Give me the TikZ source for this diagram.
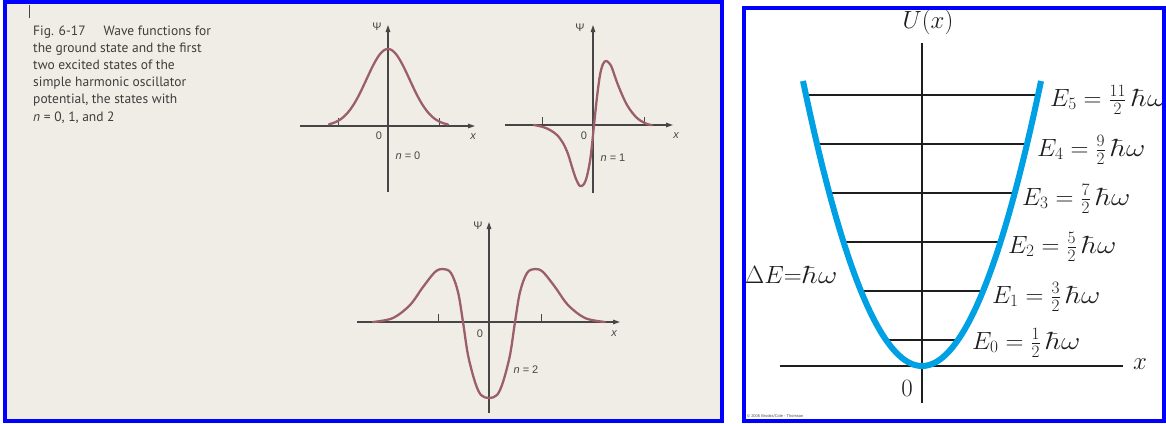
\documentclass[tikz,border=0pt]{standalone}
\usepackage{fontspec}
\usetikzlibrary{arrows.meta}
\newfontfamily\capfont{PT Sans}
\newfontfamily\lblfont{Liberation Sans}
\definecolor{paper}{RGB}{240,237,231}
\definecolor{frameblue}{RGB}{0,0,255}
\definecolor{wave}{RGB}{155,95,108}
\definecolor{axisgray}{RGB}{70,70,70}
\definecolor{captext}{RGB}{65,60,60}
\definecolor{potblue}{RGB}{0,160,228}
\definecolor{levelgray}{RGB}{30,30,30}
\newcommand{\hw}{\scalebox{1.2}[1]{$\hbar\omega$}}
\begin{document}
\begin{tikzpicture}[x=1pt,y=-1pt,
  frame/.style={draw=frameblue,line width=4pt},
  axis/.style={draw=axisgray,line width=1.2pt,-{Triangle[length=7pt,width=4.5pt]}},
  tickmark/.style={draw=axisgray,line width=1pt},
  wavecurve/.style={draw=wave,line width=2.3pt,line join=round,line cap=round},
  captxt/.style={anchor=base west,inner sep=0pt,text=captext,font=\capfont\fontsize{13.5}{16}\selectfont},
  smalllbl/.style={inner sep=0pt,text=axisgray,font=\lblfont\fontsize{11}{12}\selectfont},
  mathlbl/.style={inner sep=0pt,anchor=west,text=levelgray,font=\fontsize{26}{30}\selectfont},
  biglbl/.style={inner sep=0pt,text=levelgray,font=\fontsize{29}{33}\selectfont},
  level/.style={draw=levelgray,line width=1.4pt},
  potaxis/.style={draw=levelgray,line width=1.4pt},
  potential/.style={draw=potblue,line width=6pt},
]
\useasboundingbox (0,0) rectangle (1166,423);
\fill[white] (0,0) rectangle (1166,423);

% ---------------- left panel ----------------
\fill[paper] (4.7,2) rectangle (722,421);
\draw[axisgray,line width=1pt] (29,5) -- (29,18);

\node[captxt] (cap1) at (33,35) {Fig. 6-17\hspace{18pt}Wave functions for};
\node[captxt] (cap2) at (33,52.2) {the ground state and the first};
\node[captxt] (cap3) at (33,69.4) {two excited states of the};
\node[captxt] (cap4) at (33,86.6) {simple harmonic oscillator};
\node[captxt] (cap5) at (33,103.8) {potential, the states with};
\node[captxt] (cap6) at (33,121) {\textit{n} = 0, 1, and 2};

% n = 0
\coordinate (a0l) at (300,126); \coordinate (a0r) at (475,126);
\coordinate (a0b) at (388,192); \coordinate (a0t) at (388,25);
\draw[axis] (a0l) -- (a0r);
\draw[axis] (a0b) -- (a0t);
\draw[tickmark] (338,118) -- (338,126);
\draw[tickmark] (439,118) -- (439,126);
\begin{scope}[shift={(388,126)}]
  \draw[wavecurve] plot[domain=-59:60,samples=120] (\x,{-77*exp(-(\x*\x)/924.5)});
\end{scope}
\node[smalllbl] (psi0) at (377,27) {Ψ};
\node[smalllbl] (zero0) at (379,136) {0};
\node[smalllbl] (x0) at (473,137) {\itshape x};
\node[smalllbl] (n0) at (408,156) {\itshape n\upshape\hspace{3pt}=\hspace{3pt}0};

% n = 1
\coordinate (a1l) at (505,125); \coordinate (a1r) at (673,125);
\coordinate (a1b) at (593,193); \coordinate (a1t) at (593,25);
\draw[axis] (a1l) -- (a1r);
\draw[axis] (a1b) -- (a1t);
\draw[tickmark] (542,117) -- (542,125);
\draw[tickmark] (644,117) -- (644,125);
\begin{scope}[shift={(593,125)}]
  \draw[wavecurve] plot[smooth,tension=0.55] coordinates {
    (-59,0) (-50,2) (-43,5) (-36,10) (-30,18) (-25,29) (-21,42) (-17,54)
    (-13,61) (-9,59) (-6,51) (-3,36) (-1,20) (1,0) (4,-28) (7,-50) (10,-61)
    (13,-64) (16,-62) (19,-57) (25,-40) (34,-20) (44,-7) (54,-1) (59,0)};
\end{scope}
\node[smalllbl] (psi1) at (580,28) {Ψ};
\node[smalllbl] (zero1) at (584,136) {0};
\node[smalllbl] (x1) at (676,136) {\itshape x};
\node[smalllbl] (n1) at (613,158) {\itshape n\upshape\hspace{3pt}=\hspace{3pt}1};

% n = 2
\coordinate (a2l) at (357,322); \coordinate (a2r) at (620,322);
\coordinate (a2b) at (489,413); \coordinate (a2t) at (489,222);
\draw[axis] (a2l) -- (a2r);
\draw[axis] (a2b) -- (a2t);
\draw[tickmark] (438,314) -- (438,322);
\draw[tickmark] (541,314) -- (541,322);
\begin{scope}[shift={(489,322)}]
  \draw[wavecurve] plot[smooth,tension=0.55] coordinates {
    (-116,0) (-96,-4) (-79,-17) (-66,-35) (-54,-50) (-46,-53) (-38,-49) (-31,-30)
    (-26,0) (-21,33) (-14,60) (-8,73) (0,76) (8,73) (14,60) (21,33) (26,0)
    (31,-30) (38,-49) (46,-53) (54,-50) (66,-35) (79,-17) (96,-4) (116,0)};
\end{scope}
\node[smalllbl] (psi2) at (478,226) {Ψ};
\node[smalllbl] (zero2) at (480,334) {0};
\node[smalllbl] (x2) at (614,334) {\itshape x};
\node[smalllbl] (n2) at (526,370) {\itshape n\upshape\hspace{3pt}=\hspace{3pt}2};

\draw[frame] (4.7,2) rectangle (722,421);

% ---------------- right panel ----------------
\begin{scope}
  \clip (744,7.5) rectangle (1164,421);
  \coordinate (vb) at (922,403); \coordinate (vt) at (922,43);
  \coordinate (hl) at (780,366); \coordinate (hr) at (1123,366);
  \draw[potaxis] (vb) -- (vt);
  \draw[potaxis] (hl) -- (hr);
  \foreach \n/\yy in {0/340,1/291,2/242,3/193,4/144,5/95}{
    \pgfmathsetmacro{\halfw}{sqrt((366-\yy)/0.02013)}
    \draw[level] ({922-\halfw},\yy) -- ({922+\halfw},\yy);
  }
  \draw[potential] plot[domain=-119:119,samples=120] ({922+\x},{366-0.02013*\x*\x});
  \node[mathlbl] (e5) at (1050,100) {$E_5 = \frac{11}{2}\,$\hw};
  \node[mathlbl] (e4) at (1037,150) {$E_4 = \frac{9}{2}\,$\hw};
  \node[mathlbl] (e3) at (1022,199) {$E_3 = \frac{7}{2}\,$\hw};
  \node[mathlbl] (e2) at (1008,247) {$E_2 = \frac{5}{2}\,$\hw};
  \node[mathlbl] (e1) at (992,297) {$E_1 = \frac{3}{2}\,$\hw};
  \node[mathlbl] (e0) at (972,343) {$E_0 = \frac{1}{2}\,$\hw};
  \node[mathlbl] (de) at (745,275) {$\Delta E{=}$\hw};
  \node[biglbl] (ux) at (928,22) {$U(x)$};
  \node[biglbl] (origin) at (907,388) {$0$};
  \node[biglbl] (xlab) at (1140,364) {$x$};
  \node[inner sep=0pt,anchor=west,text=black!70,font=\lblfont\fontsize{4}{5}\selectfont] (copy) at (747,416) {\textcopyright\ 2006 Brooks/Cole - Thomson};
\end{scope}
\draw[frame] (744,7.5) rectangle (1164,421);
\end{tikzpicture}
\end{document}
